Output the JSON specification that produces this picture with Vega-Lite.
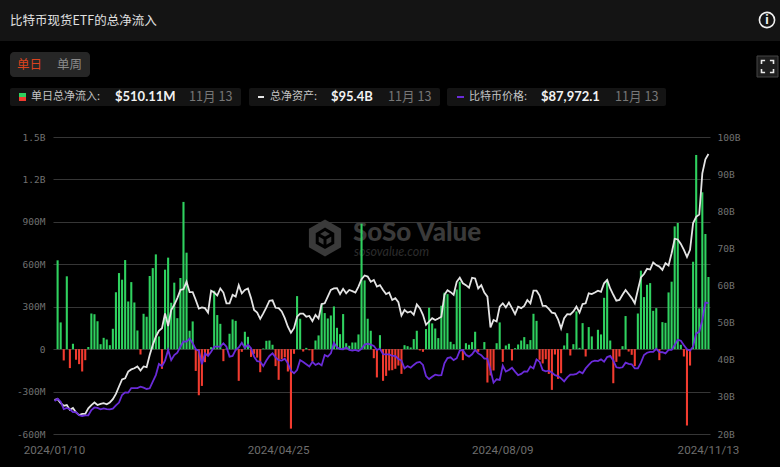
{
  "$schema": "https://vega.github.io/schema/vega-lite/v6.json",
  "width": 657,
  "height": 297,
  "autosize": {"type": "none"},
  "padding": {"left": 53, "top": 137, "right": 70, "bottom": 33},
  "background": "#000000",
  "view": {"stroke": null},
  "config": {"font": "Noto Sans CJK SC"},
  "title": {
    "text": "比特币现货ETF的总净流入",
    "anchor": "start",
    "frame": "group",
    "dx": -43,
    "offset": -27,
    "font": "Noto Sans CJK SC",
    "fontSize": 12.5,
    "fontWeight": "normal",
    "color": "#e0e0e0"
  },
  "data": {
    "values": [
      {"d":"2024/01/10","a":29.2,"p":45600},
      {"d":"2024/01/11","f":628,"a":29.4,"p":46600},
      {"d":"2024/01/12","f":189,"a":28.3,"p":45300},
      {"d":"2024/01/16","f":-80,"a":27.6,"p":42100},
      {"d":"2024/01/17","f":515,"a":27.8,"p":42600},
      {"d":"2024/01/18","f":-134,"a":26.5,"p":42000},
      {"d":"2024/01/19","f":38,"a":27.0,"p":40800},
      {"d":"2024/01/22","f":-75,"a":25.8,"p":40800},
      {"d":"2024/01/23","f":-106,"a":25.1,"p":39400},
      {"d":"2024/01/24","f":-158,"a":25.4,"p":39100},
      {"d":"2024/01/25","f":-78,"a":25.4,"p":39400},
      {"d":"2024/01/26","f":15,"a":26.9,"p":39400},
      {"d":"2024/01/29","f":252,"a":27.8,"p":41700},
      {"d":"2024/01/30","f":247,"a":28.5,"p":42800},
      {"d":"2024/01/31","f":197,"a":27.8,"p":42600},
      {"d":"2024/02/01","f":35,"a":28.1,"p":42000},
      {"d":"2024/02/02","f":80,"a":28.3,"p":42400},
      {"d":"2024/02/05","f":68,"a":28.0,"p":42100},
      {"d":"2024/02/06","f":28,"a":28.5,"p":42000},
      {"d":"2024/02/07","f":144,"a":29.4,"p":42300},
      {"d":"2024/02/08","f":403,"a":30.8,"p":43700},
      {"d":"2024/02/09","f":538,"a":32.8,"p":44900},
      {"d":"2024/02/12","f":491,"a":34.7,"p":48200},
      {"d":"2024/02/13","f":630,"a":35.0,"p":49300},
      {"d":"2024/02/14","f":337,"a":36.8,"p":49200},
      {"d":"2024/02/15","f":474,"a":37.4,"p":51200},
      {"d":"2024/02/16","f":330,"a":37.7,"p":51200},
      {"d":"2024/02/20","f":132,"a":38.2,"p":51200},
      {"d":"2024/02/21","f":-38,"a":37.1,"p":51800},
      {"d":"2024/02/22","f":250,"a":38.2,"p":51400},
      {"d":"2024/02/23","f":229,"a":38.0,"p":50800},
      {"d":"2024/02/26","f":517,"a":41.3,"p":51100},
      {"d":"2024/02/27","f":573,"a":44.0,"p":54000},
      {"d":"2024/02/28","f":670,"a":46.2,"p":56800},
      {"d":"2024/02/29","f":90,"a":47.8,"p":61600},
      {"d":"2024/03/01","f":-139,"a":48.5,"p":60700},
      {"d":"2024/03/04","f":562,"a":52.5,"p":63100},
      {"d":"2024/03/05","f":647,"a":49.1,"p":67700},
      {"d":"2024/03/06","f":328,"a":53.4,"p":63300},
      {"d":"2024/03/07","f":470,"a":54.8,"p":65500},
      {"d":"2024/03/08","f":219,"a":56.6,"p":66500},
      {"d":"2024/03/11","f":503,"a":58.8,"p":69100},
      {"d":"2024/03/12","f":1041,"a":59.0,"p":71400},
      {"d":"2024/03/13","f":682,"a":61.0,"p":71300},
      {"d":"2024/03/14","f":130,"a":58.2,"p":72600},
      {"d":"2024/03/15","f":196,"a":58.2,"p":70600},
      {"d":"2024/03/18","f":-154,"a":56.1,"p":68000},
      {"d":"2024/03/19","f":-326,"a":53.8,"p":67400},
      {"d":"2024/03/20","f":-260,"a":54.1,"p":61500},
      {"d":"2024/03/21","f":-92,"a":53.9,"p":66200},
      {"d":"2024/03/22","f":-45,"a":52.7,"p":65100},
      {"d":"2024/03/25","f":14,"a":58.6,"p":66900},
      {"d":"2024/03/26","f":413,"a":58.1,"p":69100},
      {"d":"2024/03/27","f":241,"a":57.3,"p":69100},
      {"d":"2024/03/28","f":179,"a":59.2,"p":69100},
      {"d":"2024/04/01","f":-85,"a":58.1,"p":70600},
      {"d":"2024/04/02","f":5,"a":55.2,"p":69100},
      {"d":"2024/04/03","f":109,"a":55.2,"p":64800},
      {"d":"2024/04/04","f":210,"a":57.5,"p":65100},
      {"d":"2024/04/05","f":200,"a":57.0,"p":67700},
      {"d":"2024/04/08","f":-224,"a":60.1,"p":68800},
      {"d":"2024/04/09","f":-19,"a":57.9,"p":70800},
      {"d":"2024/04/10","f":123,"a":58.8,"p":68500},
      {"d":"2024/04/11","f":87,"a":59.2,"p":70000},
      {"d":"2024/04/12","f":-55,"a":56.6,"p":68400},
      {"d":"2024/04/15","f":-33,"a":53.4,"p":64800},
      {"d":"2024/04/16","f":-60,"a":52.7,"p":62800},
      {"d":"2024/04/17","f":-163,"a":51.0,"p":62600},
      {"d":"2024/04/18","f":5,"a":52.5,"p":60700},
      {"d":"2024/04/19","f":59,"a":54.1,"p":63100},
      {"d":"2024/04/22","f":61,"a":55.9,"p":65100},
      {"d":"2024/04/23","f":31,"a":56.0,"p":66200},
      {"d":"2024/04/24","f":-120,"a":54.0,"p":64500},
      {"d":"2024/04/25","f":-217,"a":53.9,"p":63300},
      {"d":"2024/04/26","f":-70,"a":53.0,"p":63100},
      {"d":"2024/04/29","f":-57,"a":51.2,"p":63900},
      {"d":"2024/04/30","f":-158,"a":48.9,"p":61900},
      {"d":"2024/05/01","f":-562,"a":47.3,"p":58700},
      {"d":"2024/05/02","f":-33,"a":48.5,"p":57600},
      {"d":"2024/05/03","f":375,"a":51.6,"p":59000},
      {"d":"2024/05/06","f":215,"a":52.4,"p":63300},
      {"d":"2024/05/07","f":-17,"a":52.4,"p":62500},
      {"d":"2024/05/08","f":9,"a":51.6,"p":61500},
      {"d":"2024/05/09","f":-8,"a":51.8,"p":60500},
      {"d":"2024/05/10","f":-87,"a":50.4,"p":62500},
      {"d":"2024/05/13","f":61,"a":52.1,"p":61200},
      {"d":"2024/05/14","f":97,"a":51.1,"p":61900},
      {"d":"2024/05/15","f":316,"a":55.0,"p":61000},
      {"d":"2024/05/16","f":255,"a":55.2,"p":65500},
      {"d":"2024/05/17","f":217,"a":57.0,"p":64800},
      {"d":"2024/05/20","f":238,"a":58.8,"p":66200},
      {"d":"2024/05/21","f":302,"a":59.2,"p":70800},
      {"d":"2024/05/22","f":151,"a":59.3,"p":68800},
      {"d":"2024/05/23","f":106,"a":57.7,"p":68100},
      {"d":"2024/05/24","f":248,"a":59.1,"p":68000},
      {"d":"2024/05/28","f":42,"a":57.9,"p":68800},
      {"d":"2024/05/29","f":24,"a":58.8,"p":67700},
      {"d":"2024/05/30","f":47,"a":58.5,"p":67400},
      {"d":"2024/05/31","f":47,"a":58.1,"p":67700},
      {"d":"2024/06/03","f":104,"a":59.7,"p":67200},
      {"d":"2024/06/04","f":887,"a":61.7,"p":68200},
      {"d":"2024/06/05","f":486,"a":62.7,"p":70000},
      {"d":"2024/06/06","f":215,"a":62.4,"p":70400},
      {"d":"2024/06/07","f":130,"a":61.0,"p":70000},
      {"d":"2024/06/10","f":-64,"a":61.5,"p":69400},
      {"d":"2024/06/11","f":-200,"a":59.7,"p":67700},
      {"d":"2024/06/12","f":99,"a":60.1,"p":68200},
      {"d":"2024/06/13","f":-224,"a":58.8,"p":65900},
      {"d":"2024/06/14","f":-189,"a":57.7,"p":65800},
      {"d":"2024/06/17","f":-151,"a":58.1,"p":65800},
      {"d":"2024/06/18","f":-149,"a":56.1,"p":65100},
      {"d":"2024/06/20","f":-139,"a":56.6,"p":65100},
      {"d":"2024/06/21","f":-116,"a":55.5,"p":63800},
      {"d":"2024/06/24","f":-175,"a":51.9,"p":63100},
      {"d":"2024/06/25","f":28,"a":53.4,"p":59700},
      {"d":"2024/06/26","f":21,"a":52.7,"p":60700},
      {"d":"2024/06/27","f":12,"a":53.0,"p":60000},
      {"d":"2024/06/28","f":71,"a":52.1,"p":61200},
      {"d":"2024/07/01","f":130,"a":54.9,"p":62200},
      {"d":"2024/07/02","f":-9,"a":53.9,"p":62500},
      {"d":"2024/07/03","f":-19,"a":52.1,"p":61200},
      {"d":"2024/07/05","f":142,"a":49.4,"p":56400},
      {"d":"2024/07/08","f":293,"a":50.3,"p":55100},
      {"d":"2024/07/09","f":182,"a":51.2,"p":56100},
      {"d":"2024/07/10","f":146,"a":50.7,"p":57000},
      {"d":"2024/07/11","f":78,"a":51.1,"p":56700},
      {"d":"2024/07/12","f":307,"a":51.6,"p":56800},
      {"d":"2024/07/15","f":399,"a":57.5,"p":61900},
      {"d":"2024/07/16","f":389,"a":58.7,"p":64200},
      {"d":"2024/07/17","f":52,"a":58.2,"p":64500},
      {"d":"2024/07/18","f":35,"a":57.5,"p":63300},
      {"d":"2024/07/19","f":422,"a":61.0,"p":64100},
      {"d":"2024/07/22","f":477,"a":62.1,"p":67400},
      {"d":"2024/07/23","f":-78,"a":60.6,"p":67700},
      {"d":"2024/07/24","f":42,"a":60.1,"p":65600},
      {"d":"2024/07/25","f":31,"a":59.4,"p":64800},
      {"d":"2024/07/26","f":50,"a":62.1,"p":65800},
      {"d":"2024/07/29","f":123,"a":61.9,"p":67700},
      {"d":"2024/07/30","f":-19,"a":59.2,"p":66200},
      {"d":"2024/07/31","f":0,"a":60.1,"p":65400},
      {"d":"2024/08/01","f":50,"a":58.1,"p":63900},
      {"d":"2024/08/02","f":-236,"a":57.0,"p":63900},
      {"d":"2024/08/05","f":-186,"a":48.7,"p":59000},
      {"d":"2024/08/06","f":-151,"a":50.7,"p":53500},
      {"d":"2024/08/07","f":42,"a":50.3,"p":55000},
      {"d":"2024/08/08","f":189,"a":54.3,"p":54700},
      {"d":"2024/08/09","f":-90,"a":55.2,"p":60900},
      {"d":"2024/08/12","f":26,"a":54.1,"p":58300},
      {"d":"2024/08/13","f":38,"a":55.4,"p":59000},
      {"d":"2024/08/14","f":-80,"a":53.9,"p":60000},
      {"d":"2024/08/15","f":7,"a":52.3,"p":58300},
      {"d":"2024/08/16","f":33,"a":54.3,"p":56800},
      {"d":"2024/08/19","f":61,"a":53.9,"p":57300},
      {"d":"2024/08/20","f":85,"a":54.5,"p":58400},
      {"d":"2024/08/21","f":35,"a":56.1,"p":58300},
      {"d":"2024/08/22","f":64,"a":55.2,"p":60500},
      {"d":"2024/08/23","f":250,"a":58.6,"p":59700},
      {"d":"2024/08/26","f":200,"a":58.6,"p":63600},
      {"d":"2024/08/27","f":-75,"a":57.3,"p":62600},
      {"d":"2024/08/28","f":-101,"a":54.5,"p":59000},
      {"d":"2024/08/29","f":-71,"a":54.5,"p":58400},
      {"d":"2024/08/30","f":-175,"a":53.7,"p":58700},
      {"d":"2024/09/03","f":-288,"a":52.7,"p":57900},
      {"d":"2024/09/04","f":-38,"a":52.5,"p":56800},
      {"d":"2024/09/05","f":-210,"a":50.9,"p":56400},
      {"d":"2024/09/06","f":-170,"a":48.4,"p":55400},
      {"d":"2024/09/09","f":26,"a":51.2,"p":54100},
      {"d":"2024/09/10","f":113,"a":52.3,"p":55800},
      {"d":"2024/09/11","f":-45,"a":52.2,"p":57000},
      {"d":"2024/09/12","f":35,"a":53.0,"p":57000},
      {"d":"2024/09/13","f":267,"a":54.3,"p":57300},
      {"d":"2024/09/16","f":9,"a":52.7,"p":58300},
      {"d":"2024/09/17","f":184,"a":55.0,"p":57600},
      {"d":"2024/09/18","f":-52,"a":55.2,"p":59700},
      {"d":"2024/09/19","f":156,"a":57.9,"p":61200},
      {"d":"2024/09/20","f":90,"a":57.7,"p":62600},
      {"d":"2024/09/23","f":0,"a":58.1,"p":63100},
      {"d":"2024/09/24","f":137,"a":58.6,"p":62900},
      {"d":"2024/09/25","f":104,"a":58.3,"p":63600},
      {"d":"2024/09/26","f":363,"a":60.6,"p":62600},
      {"d":"2024/09/27","f":491,"a":61.5,"p":64600},
      {"d":"2024/09/30","f":61,"a":59.2,"p":65100},
      {"d":"2024/10/01","f":-241,"a":57.5,"p":63100},
      {"d":"2024/10/02","f":-90,"a":55.9,"p":60200},
      {"d":"2024/10/03","f":-52,"a":56.1,"p":59900},
      {"d":"2024/10/04","f":21,"a":57.5,"p":60200},
      {"d":"2024/10/07","f":234,"a":58.8,"p":62200},
      {"d":"2024/10/08","f":-17,"a":57.7,"p":61700},
      {"d":"2024/10/09","f":-40,"a":56.6,"p":61500},
      {"d":"2024/10/10","f":-120,"a":55.2,"p":59700},
      {"d":"2024/10/11","f":252,"a":58.8,"p":59700},
      {"d":"2024/10/14","f":555,"a":62.2,"p":62200},
      {"d":"2024/10/15","f":368,"a":63.1,"p":65500},
      {"d":"2024/10/16","f":455,"a":64.5,"p":66500},
      {"d":"2024/10/17","f":467,"a":64.3,"p":66900},
      {"d":"2024/10/18","f":271,"a":66.2,"p":66900},
      {"d":"2024/10/21","f":290,"a":65.5,"p":68200},
      {"d":"2024/10/22","f":-78,"a":65.1,"p":66800},
      {"d":"2024/10/23","f":191,"a":64.2,"p":66700},
      {"d":"2024/10/24","f":186,"a":66.0,"p":66200},
      {"d":"2024/10/25","f":401,"a":65.4,"p":67700},
      {"d":"2024/10/28","f":477,"a":68.7,"p":67700},
      {"d":"2024/10/29","f":868,"a":72.6,"p":69800},
      {"d":"2024/10/30","f":892,"a":72.4,"p":72100},
      {"d":"2024/10/31","f":31,"a":71.2,"p":71700},
      {"d":"2024/11/01","f":-52,"a":69.6,"p":69700},
      {"d":"2024/11/04","f":-540,"a":67.7,"p":68000},
      {"d":"2024/11/05","f":-116,"a":69.6,"p":67400},
      {"d":"2024/11/06","f":618,"a":76.8,"p":69100},
      {"d":"2024/11/07","f":1373,"a":78.5,"p":74900},
      {"d":"2024/11/08","f":288,"a":79.1,"p":75500},
      {"d":"2024/11/11","f":1109,"a":90.2,"p":80600},
      {"d":"2024/11/12","f":814,"a":94.0,"p":88200},
      {"d":"2024/11/13","f":510.11,"a":95.4,"p":87972.1}
    ]
  },
  "layer": [
    {
      "data": {"values": [{}]},
      "mark": {"type": "rect", "fill": "#141414"},
      "encoding": {"x": {"value": -53}, "x2": {"value": 727}, "y": {"value": -137}, "y2": {"value": -96}}
    },
    {
      "data": {"values": [{}]},
      "mark": {"type": "rect", "fill": "#262626", "cornerRadius": 4},
      "encoding": {"x": {"value": -43}, "x2": {"value": 37}, "y": {"value": -85}, "y2": {"value": -60}}
    },
    {
      "data": {"values": [{}]},
      "mark": {"type": "rect", "fill": "#141414", "cornerRadius": 2},
      "encoding": {"x": {"value": -43}, "x2": {"value": 188}, "y": {"value": -49}, "y2": {"value": -31}}
    },
    {
      "data": {"values": [{}]},
      "mark": {"type": "rect", "fill": "#141414", "cornerRadius": 2},
      "encoding": {"x": {"value": 196}, "x2": {"value": 387}, "y": {"value": -49}, "y2": {"value": -31}}
    },
    {
      "data": {"values": [{}]},
      "mark": {"type": "rect", "fill": "#141414", "cornerRadius": 2},
      "encoding": {"x": {"value": 394}, "x2": {"value": 613}, "y": {"value": -49}, "y2": {"value": -31}}
    },
    {
      "data": {"values": [{}]},
      "mark": {"type": "rect", "fill": "#1e1e1e", "stroke": "#444444"},
      "encoding": {"x": {"value": 704}, "x2": {"value": 725}, "y": {"value": -81}, "y2": {"value": -60}}
    },
    {
      "data": {"values": [{}]},
      "mark": {"type": "point", "shape": "M-1,-0.4V-1H-0.4M0.4,-1H1V-0.4M1,0.4V1H0.4M-0.4,1H-1V0.4", "size": 144, "stroke": "#e8e8e8", "strokeWidth": 1.6, "fill": null, "x": 714.5, "y": -70.5, "opacity": 1},
      "encoding": {}
    },
    {
      "data": {"values": [{}]},
      "mark": {"type": "point", "shape": "circle", "size": 230, "stroke": "#f0f0f0", "strokeWidth": 1.6, "fill": null, "x": 714, "y": -117, "opacity": 1},
      "encoding": {}
    },
    {
      "data": {"values": [{}]},
      "mark": {"type": "text", "text": "i", "x": 714, "y": -117, "font": "Roboto", "fontSize": 13, "fontWeight": "bold", "color": "#f0f0f0", "align": "center", "baseline": "middle"}
    },
    {
      "data": {"values": [{}]},
      "mark": {"type": "text", "text": "单日", "x": -23.5, "y": -72, "fontSize": 12.5, "color": "#d9431e", "align": "center", "baseline": "middle"}
    },
    {
      "data": {"values": [{}]},
      "mark": {"type": "text", "text": "单周", "x": 16.5, "y": -72, "fontSize": 12.5, "color": "#8a8a8a", "align": "center", "baseline": "middle"}
    },
    {
      "data": {"values": [{}]},
      "mark": {"type": "rect", "fill": "#2fd15f"},
      "encoding": {"x": {"value": -34}, "x2": {"value": -27}, "y": {"value": -44}, "y2": {"value": -40}}
    },
    {
      "data": {"values": [{}]},
      "mark": {"type": "rect", "fill": "#f23b2f"},
      "encoding": {"x": {"value": -34}, "x2": {"value": -27}, "y": {"value": -40}, "y2": {"value": -36}}
    },
    {
      "data": {"values": [{}]},
      "mark": {"type": "text", "text": "单日总净流入:", "x": -22, "y": -40, "fontSize": 11, "color": "#c4c4c4", "align": "left", "baseline": "middle"}
    },
    {
      "data": {"values": [{}]},
      "mark": {"type": "text", "text": "$510.11M", "x": 62, "y": -40, "font": "Lato", "fontSize": 13, "fontWeight": "bold", "color": "#f2f2f2", "align": "left", "baseline": "middle"}
    },
    {
      "data": {"values": [{}]},
      "mark": {"type": "text", "text": "11月 13", "x": 136, "y": -40, "fontSize": 12.6, "color": "#777777", "align": "left", "baseline": "middle"}
    },
    {
      "data": {"values": [{}]},
      "mark": {"type": "rect", "fill": "#e8e8e8"},
      "encoding": {"x": {"value": 205}, "x2": {"value": 211}, "y": {"value": -41}, "y2": {"value": -39}}
    },
    {
      "data": {"values": [{}]},
      "mark": {"type": "text", "text": "总净资产:", "x": 217, "y": -40, "fontSize": 11, "color": "#c4c4c4", "align": "left", "baseline": "middle"}
    },
    {
      "data": {"values": [{}]},
      "mark": {"type": "text", "text": "$95.4B", "x": 278, "y": -40, "font": "Lato", "fontSize": 13, "fontWeight": "bold", "color": "#f2f2f2", "align": "left", "baseline": "middle"}
    },
    {
      "data": {"values": [{}]},
      "mark": {"type": "text", "text": "11月 13", "x": 335, "y": -40, "fontSize": 12.6, "color": "#777777", "align": "left", "baseline": "middle"}
    },
    {
      "data": {"values": [{}]},
      "mark": {"type": "rect", "fill": "#6a2bd9"},
      "encoding": {"x": {"value": 404}, "x2": {"value": 411}, "y": {"value": -41}, "y2": {"value": -39}}
    },
    {
      "data": {"values": [{}]},
      "mark": {"type": "text", "text": "比特币价格:", "x": 416, "y": -40, "fontSize": 11, "color": "#c4c4c4", "align": "left", "baseline": "middle"}
    },
    {
      "data": {"values": [{}]},
      "mark": {"type": "text", "text": "$87,972.1", "x": 488, "y": -40, "font": "Lato", "fontSize": 13, "fontWeight": "bold", "color": "#f2f2f2", "align": "left", "baseline": "middle"}
    },
    {
      "data": {"values": [{}]},
      "mark": {"type": "text", "text": "11月 13", "x": 562, "y": -40, "fontSize": 12.6, "color": "#777777", "align": "left", "baseline": "middle"}
    },
    {
      "data": {"values": [{}]},
      "mark": {"type": "point", "shape": "M0,-1L0.87,-0.5V0.5L0,1L-0.87,0.5V-0.5Z", "size": 1369, "fill": "#3a3a3a", "filled": true, "x": 272, "y": 101, "opacity": 1},
      "encoding": {}
    },
    {
      "data": {"values": [{}]},
      "mark": {"type": "point", "shape": "M-0.42,-0.22L0,-0.47L0.42,-0.22V0.26L0,0.5L-0.42,0.26ZM0,0.02V0.5M0,0.02L0.42,-0.22M0,0.02L-0.42,-0.22", "size": 1369, "stroke": "#000000", "strokeWidth": 3, "fill": null, "x": 272, "y": 101, "opacity": 1},
      "encoding": {}
    },
    {
      "data": {"values": [{}]},
      "mark": {"type": "text", "text": "SoSo Value", "x": 300, "y": 104, "font": "Lato", "fontSize": 26, "fontWeight": 900, "color": "#3a3a3a", "align": "left", "baseline": "alphabetic"}
    },
    {
      "data": {"values": [{}]},
      "mark": {"type": "text", "text": "sosovalue.com", "x": 301, "y": 119, "font": "Lato", "fontSize": 12.5, "fontStyle": "italic", "color": "#2c2c2c", "align": "left", "baseline": "alphabetic"}
    },
    {
      "mark": {"type": "bar", "width": {"band": 0.68}},
      "encoding": {
        "x": {
          "field": "d",
          "type": "ordinal",
          "scale": {"type": "band", "paddingInner": 0, "paddingOuter": 0},
          "axis": {
            "title": null,
            "values": ["2024/01/10", "2024/04/25", "2024/08/09", "2024/11/13"],
            "labelAngle": 0,
            "labelFont": "Roboto",
            "labelFontSize": 11.6,
            "labelColor": "#6e6e6e",
            "labelPadding": 10,
            "domain": false,
            "ticks": false
          }
        },
        "y": {
          "field": "f",
          "type": "quantitative",
          "scale": {"domain": [-600, 1500]},
          "axis": {
            "title": null,
            "orient": "left",
            "values": [-600, -300, 0, 300, 600, 900, 1200, 1500],
            "labelExpr": "datum.value >= 1000 ? (datum.value / 1000) + 'B' : datum.value == 0 ? '0' : datum.value + 'M'",
            "labelFont": "DejaVu Sans Mono",
            "labelFontSize": 9.5,
            "labelColor": "#707070",
            "labelPadding": 8,
            "domain": false,
            "ticks": false,
            "grid": true,
            "gridColor": "#363636",
            "gridWidth": 1
          }
        },
        "color": {"condition": {"test": "datum.f >= 0", "value": "#2fd15f"}, "value": "#f23b2f"}
      }
    },
    {
      "mark": {"type": "line", "color": "#e4e4e4", "strokeWidth": 1.8},
      "encoding": {
        "x": {"field": "d", "type": "ordinal"},
        "y": {
          "field": "a",
          "type": "quantitative",
          "scale": {"domain": [20, 100]},
          "axis": {
            "title": null,
            "orient": "right",
            "values": [20, 30, 40, 50, 60, 70, 80, 90, 100],
            "labelExpr": "datum.value + 'B'",
            "labelFont": "DejaVu Sans Mono",
            "labelFontSize": 9.5,
            "labelColor": "#707070",
            "labelPadding": 7,
            "domain": false,
            "ticks": false,
            "grid": false
          }
        }
      }
    },
    {
      "mark": {"type": "line", "color": "#6a2bd9", "strokeWidth": 1.8},
      "encoding": {
        "x": {"field": "d", "type": "ordinal"},
        "y": {
          "field": "p",
          "type": "quantitative",
          "scale": {"domain": [31300, 159900]},
          "axis": null
        }
      }
    }
  ],
  "resolve": {"scale": {"y": "independent"}, "axis": {"y": "independent"}}
}
